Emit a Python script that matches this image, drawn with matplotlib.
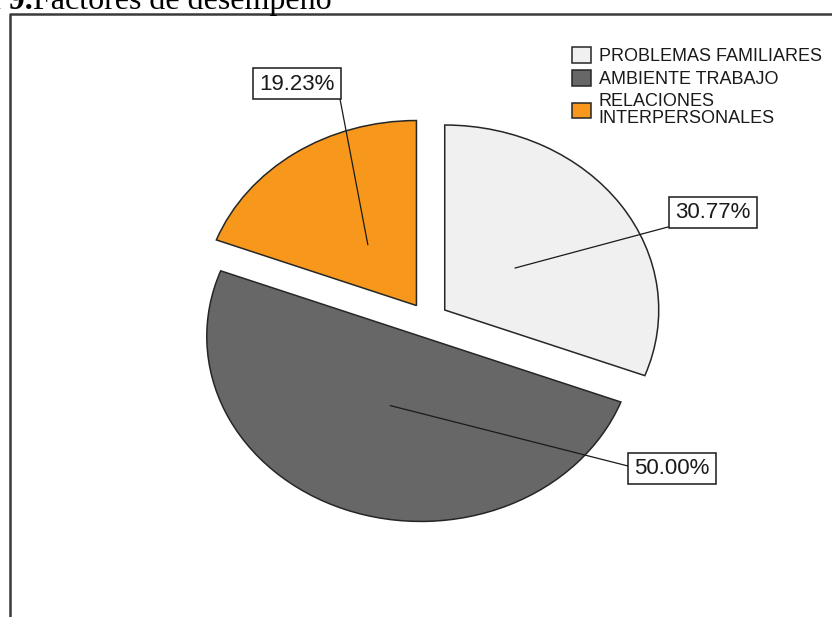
import matplotlib
matplotlib.use("Agg")
import matplotlib.pyplot as plt
from matplotlib.patches import Rectangle
import numpy as np

# ---- data -------------------------------------------------------------
categories = ["PROBLEMAS FAMILIARES", "AMBIENTE TRABAJO", "RELACIONES\nINTERPERSONALES"]
percentages = [30.77, 50.00, 19.23]
slice_colors = ["#f0f0f0", "#676767", "#f7981d"]
explode = [0.095, 0.095, 0.095]

# ---- figure -----------------------------------------------------------
W, H = 832, 617
fig = plt.figure(figsize=(W / 100, H / 100), dpi=100)
fig.patch.set_facecolor("white")

# pie axes: unit radius shown as an ellipse (214 px wide, 185 px tall)
cx, cy, rx, ry = 428, 320, 214, 185
ax = fig.add_axes([0, 0, 1, 1])
wedges, _ = ax.pie(percentages, colors=slice_colors, explode=explode,
                   startangle=90, counterclock=False, radius=1,
                   wedgeprops=dict(edgecolor="#262626", linewidth=1.1))
ax.set_aspect("auto")
ax.set_xlim(-cx / rx, (W - cx) / rx)
ax.set_ylim(-(H - cy) / ry, cy / ry)
ax.axis("off")

# overlay in pixel units (origin top-left) for frame, labels and legend
ov = fig.add_axes([0, 0, 1, 1], facecolor="none")
ov.set_xlim(0, W)
ov.set_ylim(H, 0)
ov.axis("off")

# frame of the chart area
ov.plot([10, 10, W], [H, 14, 14], color="#3a3a3a", lw=1.8, solid_capstyle="butt")

# title (partially outside the page)
ov.text(33, 9.5, "Figura 9.", ha="right", va="baseline", fontsize=23,
        fontweight="bold", family="Liberation Serif", color="black")
ov.text(33, 9.5, "Factores de desempeño", ha="left", va="baseline", fontsize=23,
        family="Liberation Serif", color="black")

# value labels with leader lines
label_centres = [(713, 212), (672, 468), (297, 83.5)]
leader_ends = [(668, 227), (628, 466), (340, 99)]
box_w, box_h = 88, 31
for w, val, (lx, ly), (ex, ey) in zip(wedges, percentages, label_centres, leader_ends):
    mid = np.deg2rad((w.theta1 + w.theta2) / 2)
    c0x, c0y = w.center
    anchor = (c0x + 0.4 * w.r * np.cos(mid), c0y + 0.4 * w.r * np.sin(mid))
    axp, ayp = ov.transData.inverted().transform(ax.transData.transform(anchor))
    ov.plot([axp, ex], [ayp, ey], color="#1a1a1a", lw=0.9, zorder=3)
    ov.add_patch(Rectangle((lx - box_w / 2, ly - box_h / 2), box_w, box_h,
                           facecolor="white", edgecolor="#1a1a1a", lw=1.1, zorder=4))
    ov.text(lx, ly + 1, f"{val:.2f}%", ha="center", va="center", fontsize=16,
            family="Liberation Sans", color="#1a1a1a", zorder=5)

# legend
leg = ov.legend(wedges, categories, loc="upper left", bbox_to_anchor=(572, 47),
                bbox_transform=ov.transData, frameon=False, borderpad=0,
                borderaxespad=0, handlelength=1.05, handleheight=0.95,
                handletextpad=0.42, labelspacing=0.28,
                prop=dict(family="Liberation Sans", size=13))
for t in leg.get_texts():
    t.set_color("#1a1a1a")
    t.set_linespacing(1.0)

fig.savefig("out.png", dpi=100, facecolor="white")
